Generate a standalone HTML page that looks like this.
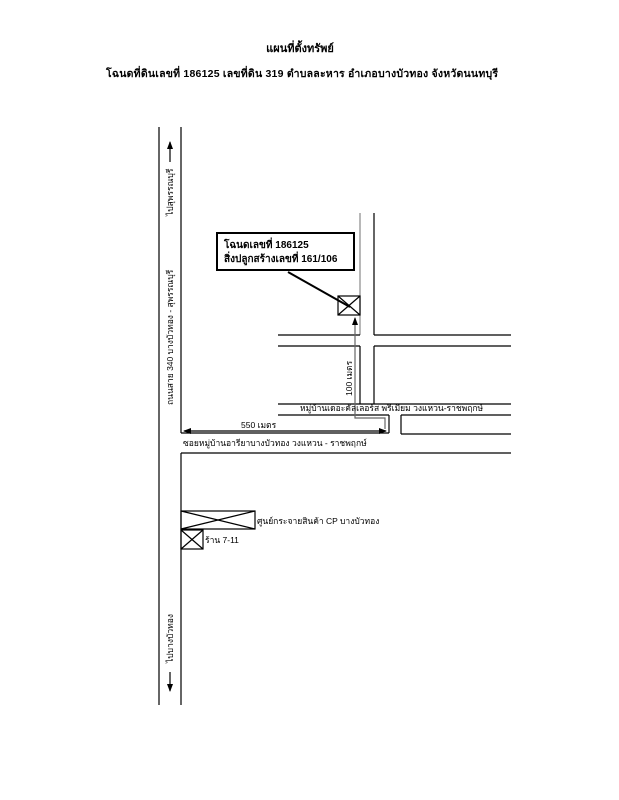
<!DOCTYPE html>
<html><head><meta charset="utf-8"><style>
html,body{margin:0;padding:0;background:#fff;}
svg{display:block;}
text{font-family:"Liberation Sans","Noto Sans CJK SC","WenQuanYi Zen Hei",sans-serif;fill:#000;}
</style></head><body>
<svg width="619" height="800" viewBox="0 0 619 800" xmlns="http://www.w3.org/2000/svg">
<defs>
<marker id="ah" markerWidth="8" markerHeight="8" refX="7" refY="4" orient="auto-start-reverse" markerUnits="userSpaceOnUse"><path d="M0,1 L8,4 L0,7 z" fill="#000"/></marker>
</defs>
<text x="300" y="52" font-size="11" font-weight="bold" text-anchor="middle">แผนที่ตั้งทรัพย์</text>
<text x="302" y="77" font-size="10.5" font-weight="bold" text-anchor="middle" textLength="392" lengthAdjust="spacing">โฉนดที่ดินเลขที่ 186125  เลขที่ดิน 319  ตำบลละหาร  อำเภอบางบัวทอง  จังหวัดนนทบุรี</text>
<g stroke="#000" stroke-width="1.2" fill="none">
<line x1="159" y1="127" x2="159" y2="705"/>
<line x1="181" y1="127" x2="181" y2="433"/>
<line x1="181" y1="433" x2="389" y2="433"/>
<line x1="181" y1="453" x2="511" y2="453"/>
<line x1="181" y1="453" x2="181" y2="705"/>
<line x1="360" y1="213" x2="360" y2="335" stroke="#888"/>
<line x1="374" y1="213" x2="374" y2="335"/>
<line x1="278" y1="335" x2="360" y2="335"/>
<line x1="374" y1="335" x2="511" y2="335"/>
<line x1="278" y1="346" x2="360" y2="346"/>
<line x1="374" y1="346" x2="511" y2="346"/>
<line x1="360" y1="346" x2="360" y2="404"/>
<line x1="374" y1="346" x2="374" y2="404"/>
<line x1="278" y1="404" x2="511" y2="404"/>
<line x1="278" y1="415" x2="389" y2="415"/>
<line x1="389" y1="415" x2="389" y2="433"/>
<line x1="401" y1="415" x2="511" y2="415"/>
<line x1="401" y1="415" x2="401" y2="434"/>
<line x1="401" y1="434" x2="511" y2="434"/>
<rect x="338" y="296" width="22" height="19"/>
<line x1="338" y1="296" x2="360" y2="315"/>
<line x1="360" y1="296" x2="338" y2="315"/>
<line x1="288" y1="272" x2="350" y2="307" stroke-width="2"/>
<rect x="217" y="233" width="137" height="37" stroke-width="2"/>
<polyline points="355,318 355,418 385,418 385,429" stroke="#666" marker-start="url(#ah)"/>
<line x1="184" y1="431" x2="386" y2="431" marker-start="url(#ah)" marker-end="url(#ah)"/>
<rect x="181" y="511" width="74" height="18"/>
<line x1="181" y1="511" x2="255" y2="529"/>
<line x1="255" y1="511" x2="181" y2="529"/>
<rect x="181" y="530" width="22" height="19"/>
<line x1="181" y1="530" x2="203" y2="549"/>
<line x1="203" y1="530" x2="181" y2="549"/>
<line x1="170" y1="162" x2="170" y2="142" marker-end="url(#ah)"/>
<line x1="170" y1="672" x2="170" y2="691" marker-end="url(#ah)"/>
</g>
<text x="224" y="248" font-size="10" font-weight="bold">โฉนดเลขที่ 186125</text>
<text x="224" y="262" font-size="10" font-weight="bold">สิ่งปลูกสร้างเลขที่ 161/106</text>
<text x="300" y="411" font-size="8.5">หมู่บ้านเดอะคัลเลอร์ส พรีเมียม วงแหวน-ราชพฤกษ์</text>
<text x="241" y="428" font-size="8.5">550 เมตร</text>
<text x="183" y="446" font-size="8.5">ซอยหมู่บ้านอารียาบางบัวทอง วงแหวน - ราชพฤกษ์</text>
<text transform="translate(352,396) rotate(-90)" font-size="8.5">100 เมตร</text>
<text x="257" y="524" font-size="8.5">ศูนย์กระจายสินค้า CP บางบัวทอง</text>
<text x="205" y="543" font-size="8.5">ร้าน 7-11</text>
<text transform="translate(173,216) rotate(-90)" font-size="8.5">ไปสุพรรณบุรี</text>
<text transform="translate(173,405) rotate(-90)" font-size="8.5">ถนนสาย 340  บางบัวทอง - สุพรรณบุรี</text>
<text transform="translate(173,663) rotate(-90)" font-size="8.5">ไปบางบัวทอง</text>
</svg>
</body></html>
